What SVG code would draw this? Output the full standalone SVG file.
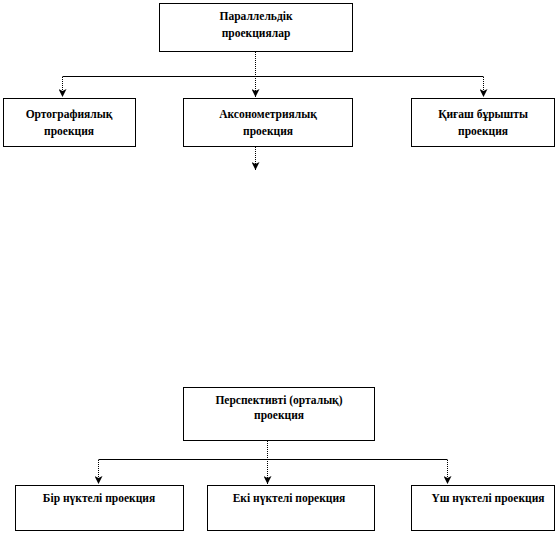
<svg xmlns="http://www.w3.org/2000/svg" width="558" height="534" viewBox="0 0 558 534">
<defs>
<style>
.box{fill:#fff;stroke:#000;stroke-width:1}
.t{font-family:"Liberation Serif","Times New Roman",serif;font-weight:bold;font-size:11.5px;fill:#000;text-anchor:middle}
.h{stroke:#000;stroke-width:1;fill:none}
.v{stroke:#000;stroke-width:1;fill:none;stroke-dasharray:1 1}
</style>
<marker id="ah" viewBox="0 0 8 8" refX="8" refY="4" markerWidth="8" markerHeight="8" markerUnits="userSpaceOnUse" orient="auto">
<path d="M0,0 L8,4 L0,8 L2,4 Z" fill="#000"/>
</marker>
</defs>
<g id="connectors">
<line class="v" x1="255.5" y1="52" x2="255.5" y2="97" marker-end="url(#ah)"/>
<line class="h" x1="62.5" y1="76.5" x2="483.5" y2="76.5"/>
<line class="v" x1="62.5" y1="77" x2="62.5" y2="97" marker-end="url(#ah)"/>
<line class="v" x1="483.5" y1="77" x2="483.5" y2="97" marker-end="url(#ah)"/>
<line class="v" x1="255.5" y1="147" x2="255.5" y2="170" marker-end="url(#ah)"/>
<line class="v" x1="267.5" y1="441" x2="267.5" y2="484" marker-end="url(#ah)"/>
<line class="h" x1="98.5" y1="459.5" x2="447.5" y2="459.5"/>
<line class="v" x1="98.5" y1="460" x2="98.5" y2="484" marker-end="url(#ah)"/>
<line class="v" x1="447.5" y1="460" x2="447.5" y2="484" marker-end="url(#ah)"/>
</g>
<g id="n-parallel">
<rect class="box" x="159.5" y="3.5" width="193" height="48"/>
<text class="t" x="256" y="20">Параллельдік</text>
<text class="t" x="256" y="37">проекциялар</text>
</g>
<g id="n-ortho">
<rect class="box" x="3.5" y="98.5" width="132" height="48"/>
<text class="t" x="69" y="118">Ортографиялық</text>
<text class="t" x="69" y="135">проекция</text>
</g>
<g id="n-axono">
<rect class="box" x="183.5" y="98.5" width="169" height="48"/>
<text class="t" x="268" y="118">Аксонометриялық</text>
<text class="t" x="268" y="135">проекция</text>
</g>
<g id="n-oblique">
<rect class="box" x="411.5" y="98.5" width="143" height="48"/>
<text class="t" x="483" y="118">Қиғаш бұрышты</text>
<text class="t" x="483" y="135">проекция</text>
</g>
<g id="n-persp">
<rect class="box" x="183.5" y="387.5" width="191" height="53"/>
<text class="t" x="279" y="404">Перспективті  (орталық)</text>
<text class="t" x="279" y="419">проекция</text>
</g>
<g id="n-one">
<rect class="box" x="15.5" y="485.5" width="168" height="45"/>
<text class="t" x="99" y="502">Бір нүктелі проекция</text>
</g>
<g id="n-two">
<rect class="box" x="207.5" y="485.5" width="167" height="45"/>
<text class="t" x="289" y="502">Екі нүктелі порекция</text>
</g>
<g id="n-three">
<rect class="box" x="411.5" y="485.5" width="143" height="45"/>
<text class="t" x="488" y="502">Үш нүктелі проекция</text>
</g>
</svg>
